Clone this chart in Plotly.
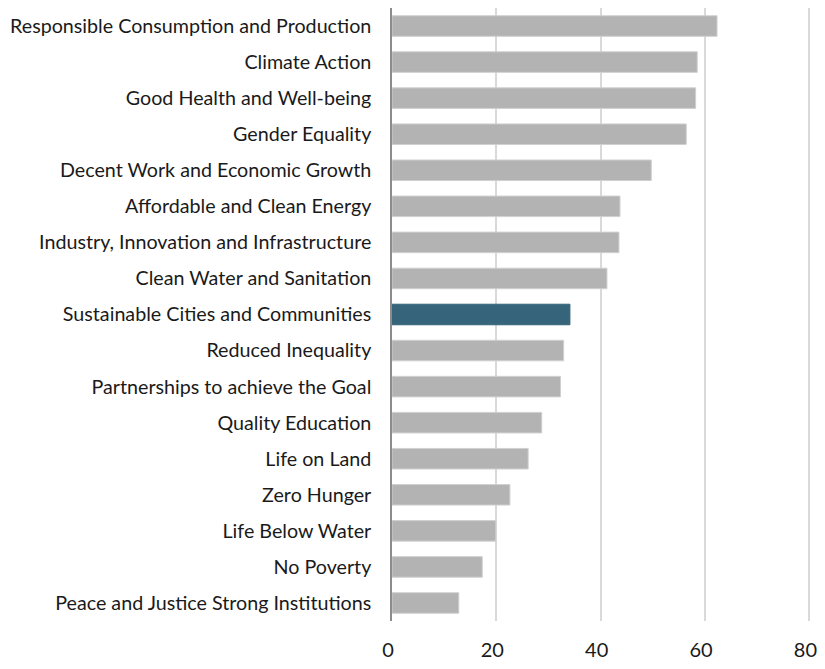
import plotly.graph_objects as go

categories = [
    "Responsible Consumption and Production",
    "Climate Action",
    "Good Health and Well-being",
    "Gender Equality",
    "Decent Work and Economic Growth",
    "Affordable and Clean Energy",
    "Industry, Innovation and Infrastructure",
    "Clean Water and Sanitation",
    "Sustainable Cities and Communities",
    "Reduced Inequality",
    "Partnerships to achieve the Goal",
    "Quality Education",
    "Life on Land",
    "Zero Hunger",
    "Life Below Water",
    "No Poverty",
    "Peace and Justice Strong Institutions",
]
values = [62.3, 58.5, 58.2, 56.4, 49.7, 43.7, 43.5, 41.2, 34.1, 32.9, 32.3,
          28.7, 26.1, 22.6, 19.9, 17.3, 12.8]
highlight = "Sustainable Cities and Communities"
x_ticks = [0, 20, 40, 60, 80]

colors = ["#36647a" if c == highlight else "#b3b3b3" for c in categories]
line_colors = ["#36647a" if c == highlight else "#d0d0d0" for c in categories]

fig = go.Figure(go.Bar(
    x=values,
    y=categories,
    orientation="h",
    marker=dict(color=colors, line=dict(color=line_colors, width=1)),
))

fig.update_layout(
    width=809,
    height=653,
    autosize=False,
    margin=dict(l=384, r=5, t=0, b=33),
    paper_bgcolor="white",
    plot_bgcolor="white",
    bargap=0.43,
    showlegend=False,
    font=dict(family="Lato", color="#1a1a1a"),
)
fig.update_xaxes(
    range=[0, 80.5],
    tickvals=x_ticks,
    showgrid=True,
    gridcolor="#d9d9d9",
    gridwidth=1.5,
    zeroline=False,
    showline=False,
    ticks="",
    tickfont=dict(size=20, family="Lato", color="#1a1a1a"),
    ticklabelstandoff=15,
    ticklabeloverflow="allow",
    ticklabelshift=-4,
)
fig.update_yaxes(
    categoryorder="array",
    categoryarray=categories[::-1],
    showline=True,
    linecolor="#8c8c8c",
    linewidth=1.5,
    showgrid=False,
    ticks="",
    tickfont=dict(size=19.7, family="Lato", color="#1a1a1a"),
    ticklabelstandoff=15,
)

fig.write_html("out.html", config={"displayModeBar": False})
